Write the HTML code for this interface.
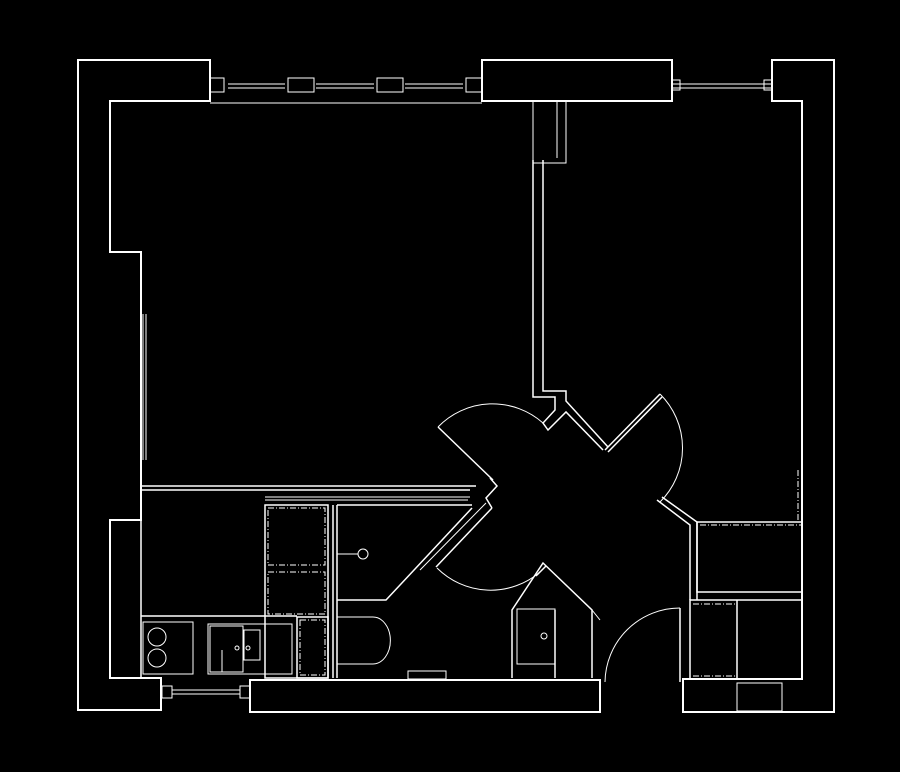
<!DOCTYPE html>
<html><head><meta charset="utf-8"><style>
html,body{margin:0;padding:0;background:#000;width:900px;height:772px;overflow:hidden}
svg{display:block}
</style></head><body>
<svg width="900" height="772" viewBox="0 0 900 772" xmlns="http://www.w3.org/2000/svg" fill="none" stroke="#fff" stroke-width="1.5">
<rect width="900" height="772" fill="#000" stroke="none"/>
<!-- outer walls -->
<polygon points="78,60 210,60 210,101 110,101 110,252 141,252 141,520 110,520 110,678 161,678 161,710 78,710" stroke-width="2"/>
<rect x="482" y="60" width="190" height="41" stroke-width="2"/>
<polygon points="772,60 834,60 834,712 683,712 683,679 802,679 802,101 772,101" stroke-width="2"/>
<rect x="250" y="680" width="350" height="32" stroke-width="2"/>
<!-- top windows -->
<g stroke-width="1">
<line x1="210" y1="103" x2="482" y2="103"/>
<line x1="228" y1="84" x2="285" y2="84"/><line x1="228" y1="88" x2="285" y2="88"/>
<line x1="316" y1="84" x2="374" y2="84"/><line x1="316" y1="88" x2="374" y2="88"/>
<line x1="405" y1="84" x2="463" y2="84"/><line x1="405" y1="88" x2="463" y2="88"/>
<rect x="210" y="78" width="14" height="14"/><rect x="288" y="78" width="26" height="14"/>
<rect x="377" y="78" width="26" height="14"/><rect x="466" y="78" width="16" height="14"/>
<line x1="672" y1="84" x2="772" y2="84"/><line x1="672" y1="88" x2="772" y2="88"/>
<rect x="672" y="80" width="8" height="10"/><rect x="764" y="80" width="8" height="10"/>
<line x1="172" y1="690" x2="240" y2="690"/><line x1="172" y1="694" x2="240" y2="694"/>
<rect x="162" y="686" width="10" height="12"/><rect x="240" y="686" width="10" height="12"/>
<line x1="143" y1="314" x2="143" y2="460"/><line x1="146" y1="314" x2="146" y2="460"/>
</g>
<line x1="141" y1="520" x2="141" y2="678"/>
<g stroke-width="1.5">
<rect x="533" y="101" width="33" height="62" stroke-width="1"/>
<line x1="557" y1="101" x2="557" y2="158" stroke-width="1"/>
<polyline points="533,160 533,397 555,397 555,410 543,423 548,430 566,412 603,450"/>
<polyline points="543,160 543,391 566,391 566,401 608,447"/>
<line x1="605" y1="450" x2="660" y2="394"/>
<line x1="608" y1="452" x2="662" y2="397"/>
<path d="M660,394 A76,76 0 0 1 660,502" stroke-width="1"/>
<!-- left door -->
<line x1="438" y1="427" x2="493" y2="480"/>
<path d="M438,427 A76,76 0 0 1 543,423" stroke-width="1"/>
<polyline points="490,478 497,486 486,498 492,508"/>
<line x1="492" y1="508" x2="436" y2="567"/>
<line x1="486" y1="503" x2="420" y2="570" stroke-width="1"/>
<!-- lower-left door -->
<path d="M437,568 A76,76 0 0 0 540,572" stroke-width="1"/>
<!-- partition horizontal -->
<line x1="141" y1="486" x2="476" y2="486"/>
<line x1="141" y1="490" x2="470" y2="490"/>
<line x1="265" y1="497" x2="470" y2="497" stroke-width="1"/>
<line x1="265" y1="500" x2="468" y2="500" stroke-width="1"/>
<!-- bathroom -->
<line x1="333" y1="505" x2="333" y2="678"/>
<line x1="337" y1="505" x2="337" y2="678"/>
<line x1="337" y1="505" x2="472" y2="505"/>
<polyline points="472,508 386,600 337,600"/>
<circle cx="363" cy="554" r="5" stroke-width="1"/>
<line x1="337" y1="554" x2="358" y2="554" stroke-width="1"/>
<path d="M337,617 H373 A17,23 0 0 1 373,664 H337" stroke-width="1"/>
<rect x="408" y="671" width="38" height="8" stroke-width="1"/>
<!-- sink unit -->
<polyline points="512,678 512,610 543,563 592,610 592,678" />
<line x1="546" y1="566" x2="536" y2="576"/>
<rect x="517" y="609" width="38" height="55" stroke-width="1"/>
<line x1="555" y1="610" x2="555" y2="678"/>
<circle cx="544" cy="636" r="3" stroke-width="1"/>
<line x1="592" y1="610" x2="600" y2="620" stroke-width="1"/>
<!-- bottom door -->
<line x1="680" y1="608" x2="680" y2="682"/>
<path d="M605,682 A75,75 0 0 1 680,608" stroke-width="1"/>
<!-- right area walls -->
<polyline points="657,500 690,525 690,600"/>
<polyline points="662,497 697,522 697,600"/>
<rect x="697" y="522" width="105" height="70"/>
<line x1="700" y1="525" x2="802" y2="525" stroke-width="1" stroke-dasharray="6,2,1,2"/>
<line x1="798" y1="470" x2="798" y2="522" stroke-width="1" stroke-dasharray="6,2,1,2"/>
<rect x="690" y="600" width="112" height="79"/>
<line x1="737" y1="600" x2="737" y2="679"/>
<line x1="693" y1="604" x2="735" y2="604" stroke-width="1" stroke-dasharray="6,2,1,2"/>
<line x1="693" y1="676" x2="735" y2="676" stroke-width="1" stroke-dasharray="6,2,1,2"/>
<rect x="737" y="683" width="45" height="28" stroke-width="1"/>
<!-- kitchen -->
<rect x="265" y="505" width="63" height="173"/>
<rect x="268" y="508" width="57" height="57" stroke-width="1" stroke-dasharray="6,2,1,2"/>
<rect x="268" y="572" width="57" height="42" stroke-width="1" stroke-dasharray="6,2,1,2"/>
<rect x="297" y="617" width="31" height="61"/>
<rect x="300" y="620" width="25" height="55" stroke-width="1" stroke-dasharray="6,2,1,2"/>
<line x1="141" y1="616" x2="297" y2="616"/>
<rect x="143" y="622" width="50" height="52" stroke-width="1"/>
<circle cx="157" cy="637" r="9" stroke-width="1"/>
<circle cx="157" cy="658" r="9" stroke-width="1"/>
<rect x="208" y="624" width="84" height="50" stroke-width="1"/>
<rect x="210" y="626" width="33" height="46" stroke-width="1"/>
<rect x="244" y="630" width="16" height="30" stroke-width="1"/>
<line x1="222" y1="650" x2="222" y2="672" stroke-width="1"/>
<circle cx="237" cy="648" r="2" stroke-width="1"/>
<circle cx="248" cy="648" r="2" stroke-width="1"/>
</g>
</svg>
</body></html>
